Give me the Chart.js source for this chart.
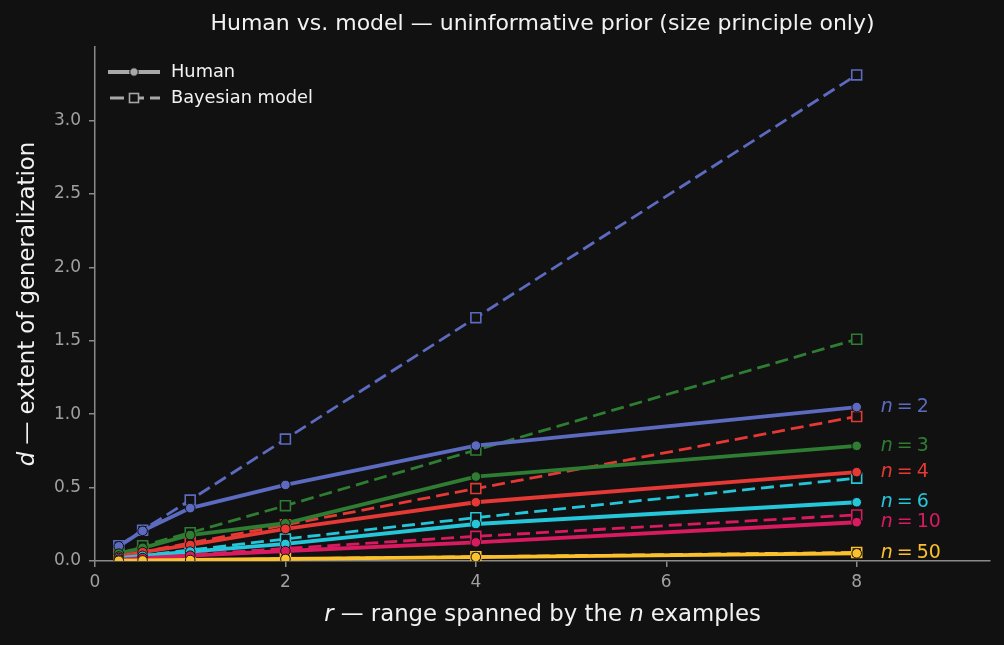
<!DOCTYPE html>
<html>
<head>
<meta charset="utf-8">
<script src="https://cdn.jsdelivr.net/npm/chart.js@4.4.1/dist/chart.umd.min.js"></script>
<style>
  html, body { margin: 0; padding: 0; background: #111111; }
</style>
</head>
<body>
<canvas id="chart" width="1004" height="645"></canvas>
<script>
// data
const rValues = [0.25, 0.5, 1, 2, 4, 8];
const nValues = [2, 3, 4, 6, 10, 50];
const seriesColors = ['#5c6bc0', '#2e7d32', '#e53935', '#26c6da', '#d81b60', '#fbc02d'];

const human2 = [0.10, 0.205, 0.36, 0.518, 0.786, 1.048];
const human3 = [0.05, 0.09, 0.177, 0.257, 0.575, 0.784];
const human4 = [0.03, 0.06, 0.109, 0.218, 0.40, 0.605];
const human6 = [0.02, 0.035, 0.064, 0.116, 0.252, 0.40];
const human10 = [0.01, 0.02, 0.036, 0.068, 0.127, 0.264];
const human50 = [0.002, 0.004, 0.007, 0.014, 0.027, 0.052];

const model2 = [0.104, 0.21, 0.415, 0.83, 1.657, 3.31];
const model3 = [0.047, 0.104, 0.193, 0.377, 0.755, 1.51];
const model4 = [0.031, 0.062, 0.123, 0.246, 0.493, 0.984];
const model6 = [0.019, 0.037, 0.075, 0.15, 0.295, 0.564];
const model10 = [0.011, 0.022, 0.043, 0.085, 0.168, 0.314];
const model50 = [0.002, 0.004, 0.007, 0.015, 0.029, 0.058];

const xTicks = [0, 2, 4, 6, 8];
const yTicks = [0, 0.5, 1.0, 1.5, 2.0, 2.5, 3.0];

const humanSeries = [human2, human3, human4, human6, human10, human50];
const modelSeries = [model2, model3, model4, model6, model10, model50];

const FONT = '"DejaVu Sans", sans-serif';
const BG = '#111111';

const toPoints = vals => rValues.map((r, i) => ({ x: r, y: vals[i] }));

const datasets = [];
nValues.forEach((n, i) => {
  datasets.push({
    label: 'model n=' + n,
    data: toPoints(modelSeries[i]),
    borderColor: seriesColors[i],
    borderWidth: 2.8,
    borderDash: [13, 6],
    pointStyle: 'rect',
    pointRadius: 7,
    pointBackgroundColor: BG,
    pointBorderColor: seriesColors[i],
    pointBorderWidth: 1.6,
    tension: 0,
    order: 30 + (5 - i)
  });
  datasets.push({
    label: 'human n=' + n,
    data: toPoints(humanSeries[i]),
    borderColor: seriesColors[i],
    borderWidth: 3.8,
    pointStyle: 'circle',
    pointRadius: 4.8,
    pointBackgroundColor: seriesColors[i],
    pointBorderColor: BG,
    pointBorderWidth: 1,
    tension: 0,
    order: 10 + (5 - i)
  });
});

function drawPieces(ctx, pieces, x, y, size) {
  // pieces: [text, italic]
  let total = 0;
  pieces.forEach(p => {
    ctx.font = (p[1] ? 'italic ' : '') + size + 'px ' + FONT;
    total += ctx.measureText(p[0]).width;
  });
  let cx = x - total / 2;
  ctx.textAlign = 'left';
  pieces.forEach(p => {
    ctx.font = (p[1] ? 'italic ' : '') + size + 'px ' + FONT;
    ctx.fillText(p[0], cx, y);
    cx += ctx.measureText(p[0]).width;
  });
  return total;
}

const overlay = {
  id: 'overlay',
  beforeDraw(chart) {
    const ctx = chart.ctx;
    ctx.save();
    ctx.fillStyle = BG;
    ctx.fillRect(0, 0, chart.width, chart.height);
    ctx.restore();
  },
  afterDraw(chart) {
    const ctx = chart.ctx;
    const area = chart.chartArea;
    const xs = chart.scales.x, ys = chart.scales.y;
    const midX = (area.left + area.right) / 2;
    ctx.save();
    ctx.textBaseline = 'middle';

    // title
    ctx.fillStyle = '#f2f2f2';
    ctx.textAlign = 'center';
    ctx.font = '22px ' + FONT;
    ctx.fillText('Human vs. model \u2014 uninformative prior (size principle only)', midX, 24);

    // x axis title
    drawPieces(ctx, [['r', true], [' \u2014 range spanned by the ', false], ['n', true], [' examples', false]], midX, 615, 22.8);

    // y axis title
    ctx.save();
    ctx.translate(28, (area.top + area.bottom) / 2);
    ctx.rotate(-Math.PI / 2);
    drawPieces(ctx, [['d', true], [' \u2014 extent of generalization', false]], 0, 0, 22.8);
    ctx.restore();

    // n labels at the right
    nValues.forEach((n, i) => {
      const last = humanSeries[i][humanSeries[i].length - 1];
      const px = xs.getPixelForValue(rValues[rValues.length - 1]) + 24;
      const py = ys.getPixelForValue(last);
      ctx.fillStyle = seriesColors[i];
      ctx.textAlign = 'left';
      ctx.font = 'italic 19px ' + FONT;
      ctx.fillText('n', px, py);
      const w = ctx.measureText('n').width;
      ctx.font = '19px ' + FONT;
      ctx.fillText('=', px + w + 4, py);
      const w2 = ctx.measureText('=').width;
      ctx.fillText(String(n), px + w + 4 + w2 + 4, py);
    });

    // legend
    const lg = '#a8a8a8';
    ctx.strokeStyle = lg;
    ctx.lineWidth = 3.8;
    ctx.beginPath();
    ctx.moveTo(108, 72); ctx.lineTo(160, 72);
    ctx.stroke();
    ctx.beginPath();
    ctx.arc(134, 72, 4.2, 0, Math.PI * 2);
    ctx.fillStyle = lg; ctx.fill();
    ctx.lineWidth = 1; ctx.strokeStyle = BG; ctx.stroke();

    ctx.strokeStyle = lg;
    ctx.lineWidth = 2.8;
    ctx.setLineDash([14, 6]);
    ctx.beginPath();
    ctx.moveTo(110, 98); ctx.lineTo(160, 98);
    ctx.stroke();
    ctx.setLineDash([]);
    ctx.fillStyle = BG;
    ctx.fillRect(129.5, 93.5, 9, 9);
    ctx.lineWidth = 1.6;
    ctx.strokeRect(129.5, 93.5, 9, 9);

    ctx.fillStyle = '#f2f2f2';
    ctx.textAlign = 'left';
    ctx.font = '17.8px ' + FONT;
    ctx.fillText('Human', 171, 72);
    ctx.fillText('Bayesian model', 171, 98);
    ctx.restore();
  }
};

new Chart(document.getElementById('chart').getContext('2d'), {
  type: 'line',
  data: { datasets },
  plugins: [overlay],
  options: {
    responsive: false,
    animation: false,
    devicePixelRatio: 1,
    layout: { padding: { top: 47, right: 14, bottom: 0, left: 0 } },
    scales: {
      x: {
        type: 'linear',
        min: 0,
        max: 9.4,
        afterFit: s => { s.height = 84; },
        afterBuildTicks: s => { s.ticks = xTicks.map(v => ({ value: v })); },
        border: { display: true, color: '#8a8a8a', width: 1.5 },
        grid: { display: true, drawOnChartArea: false, drawTicks: true, tickLength: 6, color: '#8a8a8a', lineWidth: 1.5 },
        ticks: { color: '#a0a0a0', font: { family: FONT, size: 17 }, padding: 5, maxRotation: 0, callback: v => String(v) }
      },
      y: {
        type: 'linear',
        min: 0,
        max: 3.5,
        afterFit: s => { s.width = 95; },
        afterBuildTicks: s => { s.ticks = yTicks.map(v => ({ value: v })); },
        border: { display: true, color: '#8a8a8a', width: 1.5 },
        grid: { display: true, drawOnChartArea: false, drawTicks: true, tickLength: 6, color: '#8a8a8a', lineWidth: 1.5 },
        ticks: { color: '#a0a0a0', font: { family: FONT, size: 17 }, padding: 8, callback: v => v.toFixed(1) }
      }
    },
    plugins: {
      legend: { display: false },
      title: { display: false },
      tooltip: { enabled: false }
    }
  }
});
</script>
</body>
</html>
